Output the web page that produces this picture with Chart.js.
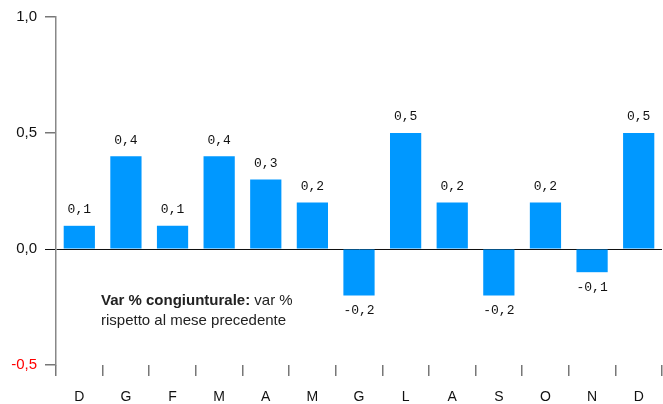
<!DOCTYPE html>
<html>
<head>
<meta charset="utf-8">
<script src="https://cdn.jsdelivr.net/npm/chart.js@4/dist/chart.umd.min.js"></script>
<style>
  html, body { margin: 0; padding: 0; background: #fff; }
  #wrap { width: 663px; height: 404px; position: relative; }
</style>
</head>
<body>
<div id="wrap"><canvas id="chart"></canvas></div>
<script>
// months (Dec -> Dec)
const months = ['D', 'G', 'F', 'M', 'A', 'M', 'G', 'L', 'A', 'S', 'O', 'N', 'D'];
const monthlyChange = [0.1, 0.4, 0.1, 0.4, 0.3, 0.2, -0.2, 0.5, 0.2, -0.2, 0.2, -0.1, 0.5];
const yTicks = [-0.5, 0.0, 0.5, 1.0];

const noteBold = 'Var % congiunturale:';
const noteRest = ' var %';
const noteLine2 = 'rispetto al mese precedente';

const fmt = v => v.toFixed(1).replace('.', ',');

// value labels above/below the bars
const valueLabels = {
    id: 'valueLabels',
    afterDatasetsDraw(chart) {
        const ctx = chart.ctx;
        const meta = chart.getDatasetMeta(0);
        ctx.save();
        ctx.font = '13px "Liberation Mono", "DejaVu Sans Mono", monospace';
        ctx.fillStyle = '#111';
        ctx.textAlign = 'center';
        ctx.textBaseline = 'middle';
        meta.data.forEach((bar, i) => {
            const v = monthlyChange[i];
            const y = v >= 0 ? bar.y - 16 : bar.y + 15;
            ctx.fillText(fmt(v), bar.x, y);
        });
        ctx.restore();
    }
};

// explanatory note inside the plot
const note = {
    id: 'note',
    afterDraw(chart) {
        const ctx = chart.ctx;
        const x = chart.chartArea.left + 45;
        ctx.save();
        ctx.fillStyle = '#222';
        ctx.textBaseline = 'middle';
        ctx.font = 'bold 15px "Liberation Sans", Arial, sans-serif';
        ctx.fillText(noteBold, x, 301);
        const w = ctx.measureText(noteBold).width;
        ctx.font = '15px "Liberation Sans", Arial, sans-serif';
        ctx.fillText(noteRest, x + w, 301);
        ctx.fillText(noteLine2, x, 321);
        ctx.restore();
    }
};

new Chart(document.getElementById('chart'), {
    type: 'bar',
    data: {
        labels: months,
        datasets: [{
            data: monthlyChange,
            backgroundColor: '#0098ff',
            borderWidth: 0,
            barPercentage: 0.67,
            categoryPercentage: 1.0
        }]
    },
    options: {
        responsive: true,
        maintainAspectRatio: false,
        animation: false,
        layout: { padding: { top: 17, right: 1, left: 0, bottom: 0 } },
        plugins: {
            legend: { display: false },
            tooltip: { enabled: false }
        },
        scales: {
            x: {
                offset: true,
                border: { display: false },
                grid: {
                    offset: true,
                    drawOnChartArea: false,
                    drawTicks: true,
                    tickLength: 11,
                    tickColor: '#777',
                    lineWidth: 1.5
                },
                ticks: {
                    color: '#111',
                    padding: 13,
                    font: { family: '"Liberation Sans", Arial, sans-serif', size: 14 }
                },
                afterFit(scale) { scale.height = 39; }
            },
            y: {
                min: -0.5,
                max: 1.0,
                afterBuildTicks(scale) { scale.ticks = yTicks.map(v => ({ value: v })); },
                border: { display: true, color: '#888', width: 1.5 },
                grid: {
                    drawTicks: true,
                    tickLength: 11,
                    tickColor: ctx => ctx.tick && ctx.tick.value === 0 ? '#111' : '#777',
                    color: ctx => ctx.tick && ctx.tick.value === 0 ? '#111' : 'rgba(0,0,0,0)',
                    lineWidth: ctx => ctx.tick && ctx.tick.value === 0 ? 1 : 1.5
                },
                ticks: {
                    padding: 8,
                    color: ctx => ctx.tick.value < 0 ? '#ff0000' : '#111',
                    font: { family: '"Liberation Sans", Arial, sans-serif', size: 15 },
                    callback: v => fmt(v)
                },
                afterFit(scale) { scale.width = 56; }
            }
        }
    },
    plugins: [valueLabels, note]
});
</script>
</body>
</html>
